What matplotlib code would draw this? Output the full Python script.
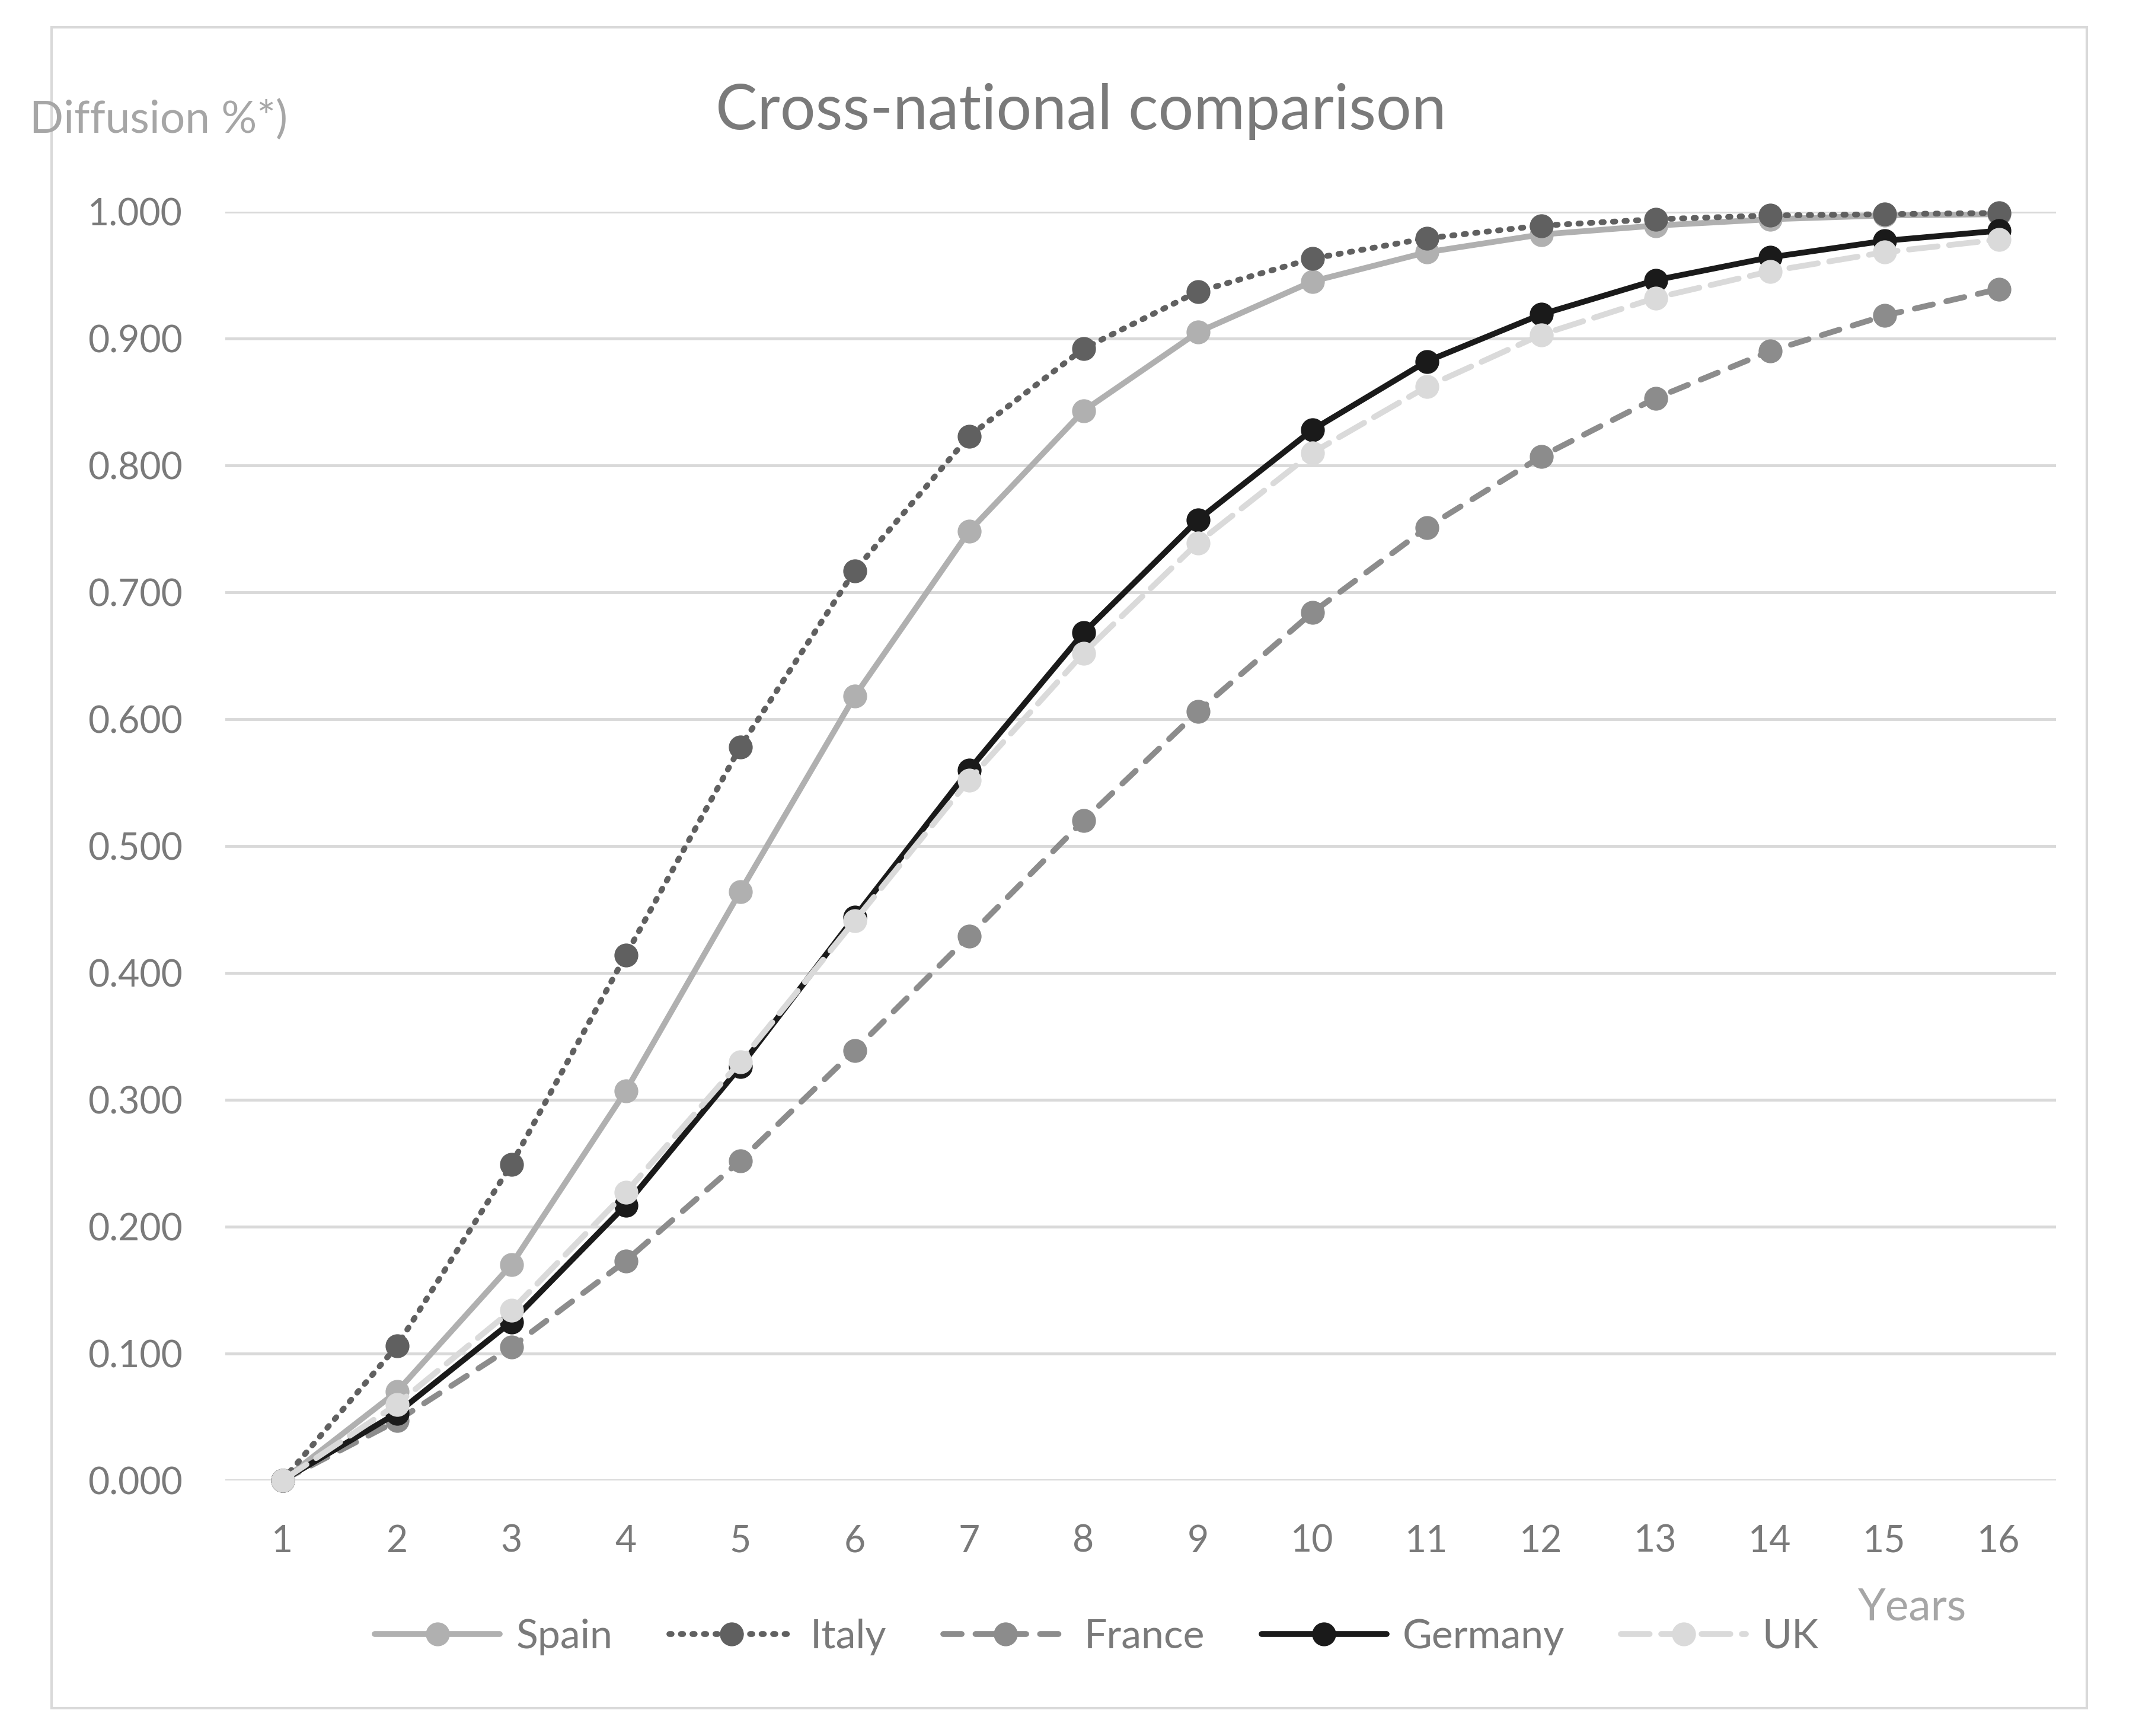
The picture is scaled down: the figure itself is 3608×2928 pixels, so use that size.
import numpy as np
import matplotlib
matplotlib.use("Agg")
import matplotlib.pyplot as plt
from matplotlib.patches import Rectangle

plt.rcParams['font.family'] = ['Lato', 'DejaVu Sans']

# ----------------------------------------------------------------------
# Data
# ----------------------------------------------------------------------
years = list(range(1, 17))
year_labels = [str(y) for y in years]

spain = [0.000, 0.070, 0.170, 0.307, 0.464, 0.618, 0.748, 0.843,
         0.905, 0.945, 0.968, 0.982, 0.989, 0.994, 0.997, 0.998]
italy = [0.000, 0.106, 0.249, 0.414, 0.578, 0.717, 0.823, 0.892,
         0.937, 0.963, 0.979, 0.989, 0.994, 0.997, 0.998, 0.999]
france = [0.000, 0.047, 0.105, 0.173, 0.252, 0.339, 0.429, 0.520,
          0.606, 0.684, 0.751, 0.807, 0.853, 0.890, 0.918, 0.939]
germany = [0.000, 0.053, 0.125, 0.217, 0.326, 0.444, 0.560, 0.668,
           0.757, 0.828, 0.882, 0.919, 0.946, 0.964, 0.977, 0.985]
uk = [0.000, 0.060, 0.134, 0.227, 0.330, 0.441, 0.552, 0.652,
      0.739, 0.810, 0.862, 0.903, 0.932, 0.953, 0.968, 0.978]

y_ticks = [0.0, 0.1, 0.2, 0.3, 0.4, 0.5, 0.6, 0.7, 0.8, 0.9, 1.0]

TEXT = "#7a7a7a"
GRID = "#d9d9d9"

# (label, values, colour, linestyle)
series = [
    ("Spain", spain, "#b0b0b0", "-"),
    ("Italy", italy, "#606060", (0, (0.4, 1.6))),
    ("France", france, "#8c8c8c", (0, (3.2, 2.4))),
    ("Germany", germany, "#1a1a1a", "-"),
    ("UK", uk, "#dadada", (0, (5.0, 2.0))),
]

W, H = 3608, 2928
fig = plt.figure(figsize=(W / 100, H / 100), dpi=100)

# outer chart border
fig.patches.append(Rectangle((87 / W, 1 - 2881 / H), (3520 - 87) / W, (2881 - 46) / H,
                             transform=fig.transFigure, fill=False,
                             edgecolor=GRID, linewidth=3))

ax = fig.add_axes([380 / W, 1 - 2497 / H, (3468 - 380) / W, (2497 - 357) / H])

for label, vals, col, ls in series:
    ax.plot(years, vals, color=col, linestyle=ls, linewidth=7,
            dash_capstyle="round", solid_capstyle="round",
            marker="o", markersize=28, markerfacecolor=col,
            markeredgecolor=col, label=label, clip_on=False, zorder=3)

ax.set_xlim(0.5, 16.5)
ax.set_ylim(0, 1.0)
ax.set_xticks(years)
ax.set_xticklabels(year_labels)
ax.set_yticks(y_ticks)
ax.set_yticklabels([f"{v:.3f}" for v in y_ticks])
ax.tick_params(axis="both", length=0, labelsize=45, labelcolor=TEXT)
ax.tick_params(axis="y", pad=52)
ax.tick_params(axis="x", pad=53)
ax.grid(axis="y", color=GRID, linewidth=3.5)
ax.set_axisbelow(True)
for s in ax.spines.values():
    s.set_visible(False)
ax.axhline(0, color=GRID, linewidth=3.5, zorder=1)

fig.text(1823 / W, 1 - 188 / H, "Cross-national comparison", ha="center", va="center",
         fontsize=76, color=TEXT)
fig.text(50 / W, 1 - 202 / H, "Diffusion %*)", ha="left", va="center",
         fontsize=54, color="#a6a6a6")
fig.text(3134 / W, 1 - 2711 / H, "Years", ha="left", va="center",
         fontsize=54, color="#a6a6a6")

leg = fig.legend(loc="center", bbox_to_anchor=(1850 / W, 1 - 2761 / H), ncol=5,
                 frameon=False, fontsize=49, handlelength=3.1, handletextpad=0.4,
                 columnspacing=1.4, markerscale=1.0)
for t in leg.get_texts():
    t.set_color(TEXT)

fig.savefig("out.png", dpi=100)
